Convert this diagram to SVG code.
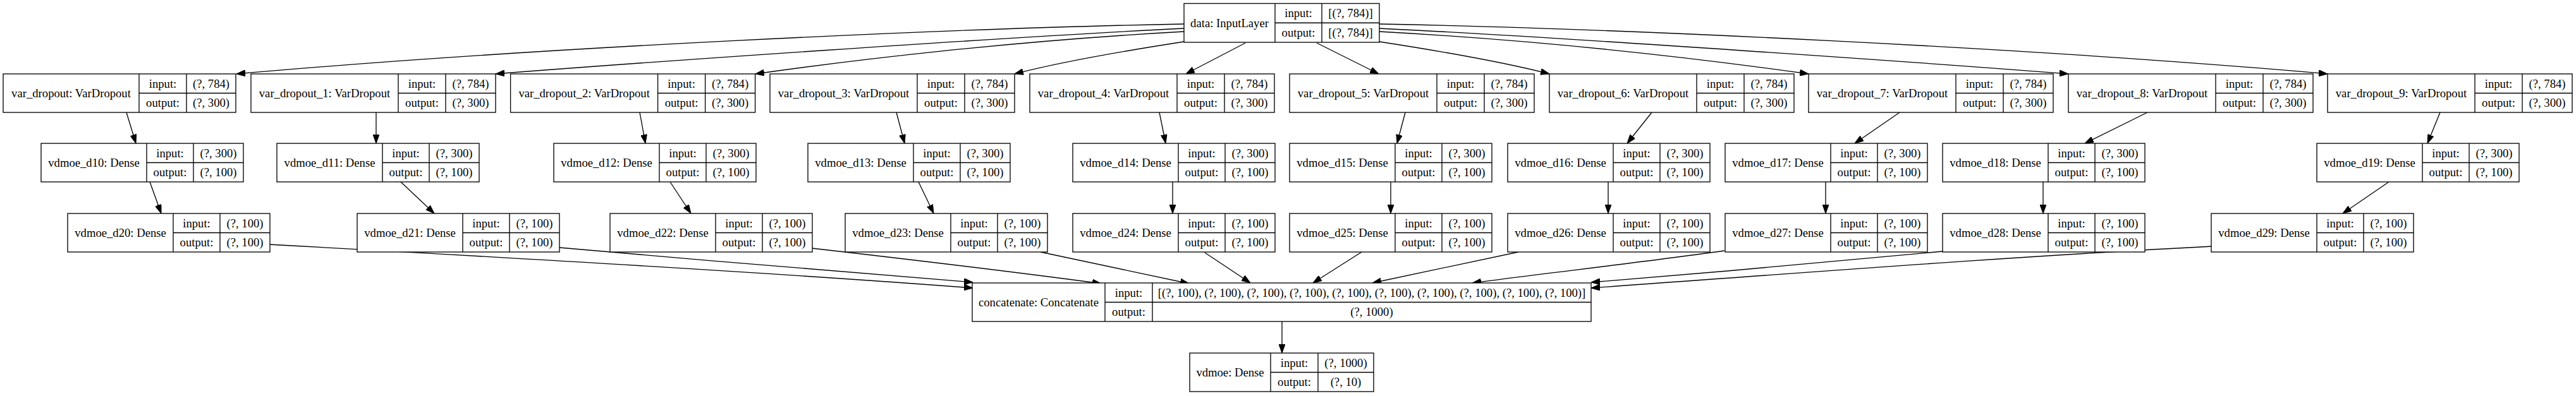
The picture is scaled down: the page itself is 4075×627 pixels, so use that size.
<svg xmlns="http://www.w3.org/2000/svg" width="4075" height="627" viewBox="0 0 4075 627">
<style>
.n rect{fill:#fff;stroke:#000;stroke-width:1.33}
.n path{fill:none;stroke:#000;stroke-width:1.33}
.n text{font-family:"Liberation Serif","Times New Roman",serif;font-size:18.67px;text-anchor:middle;fill:#000}
.e path{fill:none;stroke:#000;stroke-width:1.33}
</style>
<defs>
<marker id="ah" markerUnits="userSpaceOnUse" markerWidth="14" markerHeight="10" viewBox="0 0 14 10" refX="14" refY="5" orient="auto">
<path d="M0,0 L14,5 L0,10 z" fill="#000" stroke="#000" stroke-width="1"/>
</marker>
</defs>
<rect width="4075" height="627" fill="#fff"/>

<g class="e" marker-end="url(#ah)">
<path d="M1873,38 C1500,45 850,75 374,117"/>
<path d="M1873,45 C1600,58 1000,100 784,117"/>
<path d="M1873,50 C1600,65 1350,95 1195,117"/>
<path d="M1873,66 C1750,85 1670,100 1605,117"/>
<path d="M1970,68 L1876,117"/>
<path d="M2083,68 L2181,117"/>
<path d="M2182,66 C2305,85 2385,100 2451,117"/>
<path d="M2182,50 C2455,65 2705,95 2861,117"/>
<path d="M2182,45 C2455,58 3055,100 3272,117"/>
<path d="M2182,38 C2555,45 3205,75 3682,117"/>
<path d="M200,178 L215,227"/>
<path d="M595,178 L595,227"/>
<path d="M1012,178 L1021,227"/>
<path d="M1418,178 L1431,227"/>
<path d="M1834,178 L1844,227"/>
<path d="M2223,178 L2210,227"/>
<path d="M2613,178 L2574,227"/>
<path d="M3005,178 L2934,227"/>
<path d="M3397,178 L3298,227"/>
<path d="M3860,178 L3840,227"/>
<path d="M237,288 L255,338"/>
<path d="M634,288 L687,338"/>
<path d="M1060,288 L1093,338"/>
<path d="M1453,288 L1477,338"/>
<path d="M1855,288 L1855,338"/>
<path d="M2200,288 L2200,338"/>
<path d="M2544,288 L2544,338"/>
<path d="M2888,288 L2888,338"/>
<path d="M3232,288 L3232,338"/>
<path d="M3779,288 L3706,338"/>
<path d="M425,387 C700,402 1200,430 1539,456"/>
<path d="M885,392 C1100,412 1350,430 1539,447"/>
<path d="M1284,393 C1450,412 1600,430 1742,449"/>
<path d="M1646,399 L1881,449"/>
<path d="M1906,400 L1978,448"/>
<path d="M2154,399 L2077,448"/>
<path d="M2402,399 L2171,448"/>
<path d="M2728,397 C2600,415 2450,432 2329,448"/>
<path d="M3073,398 C2900,415 2700,432 2517,447"/>
<path d="M3500,390 C3200,405 2850,432 2517,456"/>
<path d="M2028,509 L2028,559"/>
</g>

<g id="data" class="n" transform="translate(1873,5.5)">
<rect width="309" height="61.5"/><path d="M144,0V61.5M218,0V61.5M144,30.75H309"/>
<text x="72" y="37">data: InputLayer</text><text x="181" y="21.5">input:</text><text x="263.5" y="21.5">[(?, 784)]</text>
<text x="181" y="52.5">output:</text><text x="263.5" y="52.5">[(?, 784)]</text>
</g>

<g id="var_dropout" class="n" transform="translate(5,117)">
<rect width="368" height="61"/><path d="M215,0V61M290,0V61M215,30.5H368"/>
<text x="107.5" y="36.5">var_dropout: VarDropout</text><text x="252.5" y="21.5">input:</text><text x="329" y="21.5">(?, 784)</text>
<text x="252.5" y="52">output:</text><text x="329" y="52">(?, 300)</text>
</g>
<g id="var_dropout_1" class="n" transform="translate(397,117)">
<rect width="387" height="61"/><path d="M233,0V61M308,0V61M233,30.5H387"/>
<text x="116.5" y="36.5">var_dropout_1: VarDropout</text><text x="270.5" y="21.5">input:</text><text x="347.5" y="21.5">(?, 784)</text>
<text x="270.5" y="52">output:</text><text x="347.5" y="52">(?, 300)</text>
</g>
<g id="var_dropout_2" class="n" transform="translate(807.6,117)">
<rect width="387" height="61"/><path d="M233,0V61M308,0V61M233,30.5H387"/>
<text x="116.5" y="36.5">var_dropout_2: VarDropout</text><text x="270.5" y="21.5">input:</text><text x="347.5" y="21.5">(?, 784)</text>
<text x="270.5" y="52">output:</text><text x="347.5" y="52">(?, 300)</text>
</g>
<g id="var_dropout_3" class="n" transform="translate(1218,117)">
<rect width="387" height="61"/><path d="M233,0V61M308,0V61M233,30.5H387"/>
<text x="116.5" y="36.5">var_dropout_3: VarDropout</text><text x="270.5" y="21.5">input:</text><text x="347.5" y="21.5">(?, 784)</text>
<text x="270.5" y="52">output:</text><text x="347.5" y="52">(?, 300)</text>
</g>
<g id="var_dropout_4" class="n" transform="translate(1629,117)">
<rect width="387" height="61"/><path d="M233,0V61M308,0V61M233,30.5H387"/>
<text x="116.5" y="36.5">var_dropout_4: VarDropout</text><text x="270.5" y="21.5">input:</text><text x="347.5" y="21.5">(?, 784)</text>
<text x="270.5" y="52">output:</text><text x="347.5" y="52">(?, 300)</text>
</g>
<g id="var_dropout_5" class="n" transform="translate(2040,117)">
<rect width="387" height="61"/><path d="M233,0V61M308,0V61M233,30.5H387"/>
<text x="116.5" y="36.5">var_dropout_5: VarDropout</text><text x="270.5" y="21.5">input:</text><text x="347.5" y="21.5">(?, 784)</text>
<text x="270.5" y="52">output:</text><text x="347.5" y="52">(?, 300)</text>
</g>
<g id="var_dropout_6" class="n" transform="translate(2451,117)">
<rect width="387" height="61"/><path d="M233,0V61M308,0V61M233,30.5H387"/>
<text x="116.5" y="36.5">var_dropout_6: VarDropout</text><text x="270.5" y="21.5">input:</text><text x="347.5" y="21.5">(?, 784)</text>
<text x="270.5" y="52">output:</text><text x="347.5" y="52">(?, 300)</text>
</g>
<g id="var_dropout_7" class="n" transform="translate(2861,117)">
<rect width="387" height="61"/><path d="M233,0V61M308,0V61M233,30.5H387"/>
<text x="116.5" y="36.5">var_dropout_7: VarDropout</text><text x="270.5" y="21.5">input:</text><text x="347.5" y="21.5">(?, 784)</text>
<text x="270.5" y="52">output:</text><text x="347.5" y="52">(?, 300)</text>
</g>
<g id="var_dropout_8" class="n" transform="translate(3272,117)">
<rect width="387" height="61"/><path d="M233,0V61M308,0V61M233,30.5H387"/>
<text x="116.5" y="36.5">var_dropout_8: VarDropout</text><text x="270.5" y="21.5">input:</text><text x="347.5" y="21.5">(?, 784)</text>
<text x="270.5" y="52">output:</text><text x="347.5" y="52">(?, 300)</text>
</g>
<g id="var_dropout_9" class="n" transform="translate(3682,117)">
<rect width="387" height="61"/><path d="M233,0V61M308,0V61M233,30.5H387"/>
<text x="116.5" y="36.5">var_dropout_9: VarDropout</text><text x="270.5" y="21.5">input:</text><text x="347.5" y="21.5">(?, 784)</text>
<text x="270.5" y="52">output:</text><text x="347.5" y="52">(?, 300)</text>
</g>

<g id="vdmoe_d10" class="n" transform="translate(65,227)">
<rect width="320" height="61"/><path d="M167,0V61M241,0V61M167,30.5H320"/>
<text x="83.5" y="36.5">vdmoe_d10: Dense</text><text x="204" y="21.5">input:</text><text x="280.5" y="21.5">(?, 300)</text>
<text x="204" y="52">output:</text><text x="280.5" y="52">(?, 100)</text>
</g>
<g id="vdmoe_d11" class="n" transform="translate(438,227)">
<rect width="320" height="61"/><path d="M167,0V61M241,0V61M167,30.5H320"/>
<text x="83.5" y="36.5">vdmoe_d11: Dense</text><text x="204" y="21.5">input:</text><text x="280.5" y="21.5">(?, 300)</text>
<text x="204" y="52">output:</text><text x="280.5" y="52">(?, 100)</text>
</g>
<g id="vdmoe_d12" class="n" transform="translate(876,227)">
<rect width="320" height="61"/><path d="M167,0V61M241,0V61M167,30.5H320"/>
<text x="83.5" y="36.5">vdmoe_d12: Dense</text><text x="204" y="21.5">input:</text><text x="280.5" y="21.5">(?, 300)</text>
<text x="204" y="52">output:</text><text x="280.5" y="52">(?, 100)</text>
</g>
<g id="vdmoe_d13" class="n" transform="translate(1278,227)">
<rect width="320" height="61"/><path d="M167,0V61M241,0V61M167,30.5H320"/>
<text x="83.5" y="36.5">vdmoe_d13: Dense</text><text x="204" y="21.5">input:</text><text x="280.5" y="21.5">(?, 300)</text>
<text x="204" y="52">output:</text><text x="280.5" y="52">(?, 100)</text>
</g>
<g id="vdmoe_d14" class="n" transform="translate(1697,227)">
<rect width="320" height="61"/><path d="M167,0V61M241,0V61M167,30.5H320"/>
<text x="83.5" y="36.5">vdmoe_d14: Dense</text><text x="204" y="21.5">input:</text><text x="280.5" y="21.5">(?, 300)</text>
<text x="204" y="52">output:</text><text x="280.5" y="52">(?, 100)</text>
</g>
<g id="vdmoe_d15" class="n" transform="translate(2040,227)">
<rect width="320" height="61"/><path d="M167,0V61M241,0V61M167,30.5H320"/>
<text x="83.5" y="36.5">vdmoe_d15: Dense</text><text x="204" y="21.5">input:</text><text x="280.5" y="21.5">(?, 300)</text>
<text x="204" y="52">output:</text><text x="280.5" y="52">(?, 100)</text>
</g>
<g id="vdmoe_d16" class="n" transform="translate(2385,227)">
<rect width="320" height="61"/><path d="M167,0V61M241,0V61M167,30.5H320"/>
<text x="83.5" y="36.5">vdmoe_d16: Dense</text><text x="204" y="21.5">input:</text><text x="280.5" y="21.5">(?, 300)</text>
<text x="204" y="52">output:</text><text x="280.5" y="52">(?, 100)</text>
</g>
<g id="vdmoe_d17" class="n" transform="translate(2729,227)">
<rect width="320" height="61"/><path d="M167,0V61M241,0V61M167,30.5H320"/>
<text x="83.5" y="36.5">vdmoe_d17: Dense</text><text x="204" y="21.5">input:</text><text x="280.5" y="21.5">(?, 300)</text>
<text x="204" y="52">output:</text><text x="280.5" y="52">(?, 100)</text>
</g>
<g id="vdmoe_d18" class="n" transform="translate(3073,227)">
<rect width="320" height="61"/><path d="M167,0V61M241,0V61M167,30.5H320"/>
<text x="83.5" y="36.5">vdmoe_d18: Dense</text><text x="204" y="21.5">input:</text><text x="280.5" y="21.5">(?, 300)</text>
<text x="204" y="52">output:</text><text x="280.5" y="52">(?, 100)</text>
</g>
<g id="vdmoe_d19" class="n" transform="translate(3665,227)">
<rect width="320" height="61"/><path d="M167,0V61M241,0V61M167,30.5H320"/>
<text x="83.5" y="36.5">vdmoe_d19: Dense</text><text x="204" y="21.5">input:</text><text x="280.5" y="21.5">(?, 300)</text>
<text x="204" y="52">output:</text><text x="280.5" y="52">(?, 100)</text>
</g>

<g id="vdmoe_d20" class="n" transform="translate(107,338)">
<rect width="320" height="61"/><path d="M167,0V61M241,0V61M167,30.5H320"/>
<text x="83.5" y="36.5">vdmoe_d20: Dense</text><text x="204" y="21.5">input:</text><text x="280.5" y="21.5">(?, 100)</text>
<text x="204" y="52">output:</text><text x="280.5" y="52">(?, 100)</text>
</g>
<g id="vdmoe_d21" class="n" transform="translate(565,338)">
<rect width="320" height="61"/><path d="M167,0V61M241,0V61M167,30.5H320"/>
<text x="83.5" y="36.5">vdmoe_d21: Dense</text><text x="204" y="21.5">input:</text><text x="280.5" y="21.5">(?, 100)</text>
<text x="204" y="52">output:</text><text x="280.5" y="52">(?, 100)</text>
</g>
<g id="vdmoe_d22" class="n" transform="translate(965,338)">
<rect width="320" height="61"/><path d="M167,0V61M241,0V61M167,30.5H320"/>
<text x="83.5" y="36.5">vdmoe_d22: Dense</text><text x="204" y="21.5">input:</text><text x="280.5" y="21.5">(?, 100)</text>
<text x="204" y="52">output:</text><text x="280.5" y="52">(?, 100)</text>
</g>
<g id="vdmoe_d23" class="n" transform="translate(1337,338)">
<rect width="320" height="61"/><path d="M167,0V61M241,0V61M167,30.5H320"/>
<text x="83.5" y="36.5">vdmoe_d23: Dense</text><text x="204" y="21.5">input:</text><text x="280.5" y="21.5">(?, 100)</text>
<text x="204" y="52">output:</text><text x="280.5" y="52">(?, 100)</text>
</g>
<g id="vdmoe_d24" class="n" transform="translate(1697,338)">
<rect width="320" height="61"/><path d="M167,0V61M241,0V61M167,30.5H320"/>
<text x="83.5" y="36.5">vdmoe_d24: Dense</text><text x="204" y="21.5">input:</text><text x="280.5" y="21.5">(?, 100)</text>
<text x="204" y="52">output:</text><text x="280.5" y="52">(?, 100)</text>
</g>
<g id="vdmoe_d25" class="n" transform="translate(2040,338)">
<rect width="320" height="61"/><path d="M167,0V61M241,0V61M167,30.5H320"/>
<text x="83.5" y="36.5">vdmoe_d25: Dense</text><text x="204" y="21.5">input:</text><text x="280.5" y="21.5">(?, 100)</text>
<text x="204" y="52">output:</text><text x="280.5" y="52">(?, 100)</text>
</g>
<g id="vdmoe_d26" class="n" transform="translate(2385,338)">
<rect width="320" height="61"/><path d="M167,0V61M241,0V61M167,30.5H320"/>
<text x="83.5" y="36.5">vdmoe_d26: Dense</text><text x="204" y="21.5">input:</text><text x="280.5" y="21.5">(?, 100)</text>
<text x="204" y="52">output:</text><text x="280.5" y="52">(?, 100)</text>
</g>
<g id="vdmoe_d27" class="n" transform="translate(2729,338)">
<rect width="320" height="61"/><path d="M167,0V61M241,0V61M167,30.5H320"/>
<text x="83.5" y="36.5">vdmoe_d27: Dense</text><text x="204" y="21.5">input:</text><text x="280.5" y="21.5">(?, 100)</text>
<text x="204" y="52">output:</text><text x="280.5" y="52">(?, 100)</text>
</g>
<g id="vdmoe_d28" class="n" transform="translate(3073,338)">
<rect width="320" height="61"/><path d="M167,0V61M241,0V61M167,30.5H320"/>
<text x="83.5" y="36.5">vdmoe_d28: Dense</text><text x="204" y="21.5">input:</text><text x="280.5" y="21.5">(?, 100)</text>
<text x="204" y="52">output:</text><text x="280.5" y="52">(?, 100)</text>
</g>
<g id="vdmoe_d29" class="n" transform="translate(3498,338)">
<rect width="320" height="61"/><path d="M167,0V61M241,0V61M167,30.5H320"/>
<text x="83.5" y="36.5">vdmoe_d29: Dense</text><text x="204" y="21.5">input:</text><text x="280.5" y="21.5">(?, 100)</text>
<text x="204" y="52">output:</text><text x="280.5" y="52">(?, 100)</text>
</g>

<g id="concatenate" class="n" transform="translate(1538,448)">
<rect width="979" height="61"/><path d="M210,0V61M285,0V61M210,30.5H979"/>
<text x="105" y="36.5">concatenate: Concatenate</text><text x="247.5" y="21.5">input:</text>
<text x="632" y="21.5">[(?, 100), (?, 100), (?, 100), (?, 100), (?, 100), (?, 100), (?, 100), (?, 100), (?, 100), (?, 100)]</text>
<text x="247.5" y="52">output:</text><text x="632" y="52">(?, 1000)</text>
</g>

<g id="vdmoe" class="n" transform="translate(1882,559)">
<rect width="291" height="61"/><path d="M128,0V61M203,0V61M128,30.5H291"/>
<text x="64" y="36.5">vdmoe: Dense</text><text x="165.5" y="21.5">input:</text><text x="247" y="21.5">(?, 1000)</text>
<text x="165.5" y="52">output:</text><text x="247" y="52">(?, 10)</text>
</g>
</svg>
